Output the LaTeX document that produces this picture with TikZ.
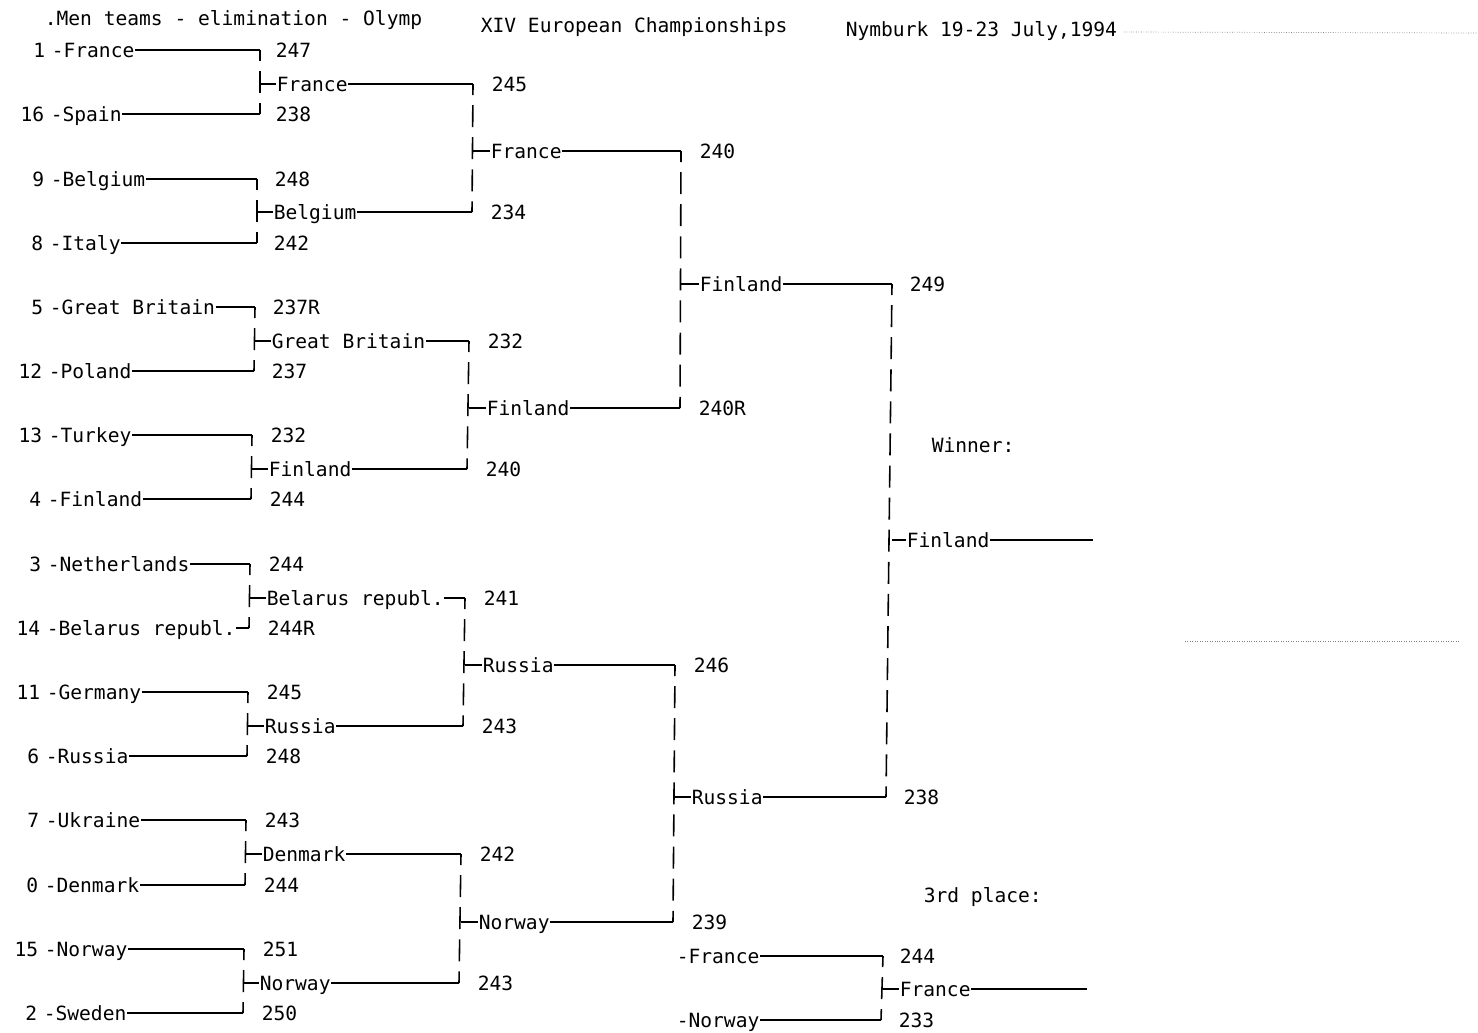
\documentclass[tikz,border=0pt]{standalone}
\usepackage{fontspec}
\newfontfamily\dotfont{DejaVu Sans Mono}

\begin{document}
\begin{tikzpicture}[
    x=0.02cm, y=-0.02cm,
    font=\dotfont\fontsize{11.15}{13}\selectfont,
    line width=0.9pt,
    namenode/.style={anchor=west, inner sep=0pt, text height=8.2pt, text depth=0pt},
    seednode/.style={anchor=east, inner sep=0pt, text height=8.2pt, text depth=0pt},
    boxline/.style={dash pattern=on 0.44cm off 0.202cm, dash phase=0.22cm},
    ]
\useasboundingbox (0,0) rectangle (1478,1032);

% Heading
\node[namenode] (head1) at (44,18) {.Men teams - elimination - Olymp};
\node[namenode] (head2) at (480,25) {XIV European Championships};
\node[namenode] (head3) at (845,29) {Nymburk 19-23 July,1994};
\draw[gray, thin, densely dotted] (head3.east) ++(6,3) -- (1478,33);

% First round
\node[seednode] (s1) at (46,50) {1};
\node[namenode] (t1) at (51,50) {-France};
\node[seednode] (s2) at (45,114) {16};
\node[namenode] (t2) at (50,114) {-Spain};
\node[seednode] (s3) at (45,179) {9};
\node[namenode] (t3) at (50,179) {-Belgium};
\node[seednode] (s4) at (44,243) {8};
\node[namenode] (t4) at (49,243) {-Italy};
\node[seednode] (s5) at (44,307) {5};
\node[namenode] (t5) at (49,307) {-Great Britain};
\node[seednode] (s6) at (43,371) {12};
\node[namenode] (t6) at (48,371) {-Poland};
\node[seednode] (s7) at (43,435) {13};
\node[namenode] (t7) at (48,435) {-Turkey};
\node[seednode] (s8) at (42,499) {4};
\node[namenode] (t8) at (47,499) {-Finland};
\node[seednode] (s9) at (42,564) {3};
\node[namenode] (t9) at (47,564) {-Netherlands};
\node[seednode] (s10) at (41,628) {14};
\node[namenode] (t10) at (46,628) {-Belarus republ.};
\node[seednode] (s11) at (41,692) {11};
\node[namenode] (t11) at (46,692) {-Germany};
\node[seednode] (s12) at (40,756) {6};
\node[namenode] (t12) at (45,756) {-Russia};
\node[seednode] (s13) at (40,820) {7};
\node[namenode] (t13) at (45,820) {-Ukraine};
\node[seednode] (s14) at (39,885) {0};
\node[namenode] (t14) at (44,885) {-Denmark};
\node[seednode] (s15) at (39,949) {15};
\node[namenode] (t15) at (44,949) {-Norway};
\node[seednode] (s16) at (38,1013) {2};
\node[namenode] (t16) at (43,1013) {-Sweden};

\coordinate (b1) at (260,50);
\coordinate (b2) at (260,114);
\coordinate (b3) at (257,179);
\coordinate (b4) at (257,243);
\coordinate (b5) at (255,307);
\coordinate (b6) at (254,371);
\coordinate (b7) at (252,435);
\coordinate (b8) at (251,499);
\coordinate (b9) at (250,564);
\coordinate (b10) at (249,628);
\coordinate (b11) at (248,692);
\coordinate (b12) at (247,756);
\coordinate (b13) at (246,820);
\coordinate (b14) at (245,885);
\coordinate (b15) at (244,949);
\coordinate (b16) at (243,1013);

\node[namenode] (a1) at (275,50) {247};
\node[namenode] (a2) at (275,114) {238};
\node[namenode] (a3) at (274,179) {248};
\node[namenode] (a4) at (273,243) {242};
\node[namenode] (a5) at (272,307) {237R};
\node[namenode] (a6) at (271,371) {237};
\node[namenode] (a7) at (270,435) {232};
\node[namenode] (a8) at (269,499) {244};
\node[namenode] (a9) at (268,564) {244};
\node[namenode] (a10) at (267,628) {244R};
\node[namenode] (a11) at (266,692) {245};
\node[namenode] (a12) at (265,756) {248};
\node[namenode] (a13) at (264,820) {243};
\node[namenode] (a14) at (263,885) {244};
\node[namenode] (a15) at (262,949) {251};
\node[namenode] (a16) at (261,1013) {250};

% Second round
\node[namenode] (w1) at (276,84) {France};
\node[namenode] (w2) at (273,212) {Belgium};
\node[namenode] (w3) at (271,341) {Great Britain};
\node[namenode] (w4) at (268,469) {Finland};
\node[namenode] (w5) at (266,598) {Belarus republ.};
\node[namenode] (w6) at (264,726) {Russia};
\node[namenode] (w7) at (262,854) {Denmark};
\node[namenode] (w8) at (259,983) {Norway};

\coordinate (c1) at (473,84);
\coordinate (c2) at (472,212);
\coordinate (c3) at (469,341);
\coordinate (c4) at (467,469);
\coordinate (c5) at (465,598);
\coordinate (c6) at (463,726);
\coordinate (c7) at (461,854);
\coordinate (c8) at (459,983);

\node[namenode] (r1) at (491,84) {245};
\node[namenode] (r2) at (490,212) {234};
\node[namenode] (r3) at (487,341) {232};
\node[namenode] (r4) at (485,469) {240};
\node[namenode] (r5) at (483,598) {241};
\node[namenode] (r6) at (481,726) {243};
\node[namenode] (r7) at (479,854) {242};
\node[namenode] (r8) at (477,983) {243};

% Third round
\node[namenode] (v1) at (490,151) {France};
\node[namenode] (v2) at (486,408) {Finland};
\node[namenode] (v3) at (482,665) {Russia};
\node[namenode] (v4) at (478,922) {Norway};

\coordinate (d1) at (681,151);
\coordinate (d2) at (680,408);
\coordinate (d3) at (675,665);
\coordinate (d4) at (673,922);

\node[namenode] (q1) at (699,151) {240};
\node[namenode] (q2) at (698,408) {240R};
\node[namenode] (q3) at (693,665) {246};
\node[namenode] (q4) at (691,922) {239};

% Final
\node[namenode] (u1) at (699,284) {Finland};
\node[namenode] (u2) at (691,797) {Russia};

\coordinate (e1) at (892,284);
\coordinate (e2) at (886,797);

\node[namenode] (p1) at (909,284) {249};
\node[namenode] (p2) at (903,797) {238};

\node[namenode] (wintitle) at (931,445) {Winner:};
\node[namenode] (champ) at (906,540) {Finland};
\coordinate (champend) at (1093,540);

% Third place
\node[namenode] (bronzetitle) at (923,895) {3rd place:};
\node[namenode] (m1) at (676,956) {-France};
\node[namenode] (m2) at (676,1020) {-Norway};

\coordinate (g1) at (883,956);
\coordinate (g2) at (881,1020);

\node[namenode] (k1) at (899,956) {244};
\node[namenode] (k2) at (898,1020) {233};

\node[namenode] (bronze) at (899,989) {France};
\coordinate (bronzeend) at (1087,989);

\draw[gray, thin, densely dotted] (1185,641) -- (1460,641);

% Lines of the bracket
\foreach \i in {1,...,16} {
    \draw (t\i.east) -- (b\i);
}
\foreach \i/\j/\win in {1/2/1, 3/4/2, 5/6/3, 7/8/4, 9/10/5, 11/12/6, 13/14/7, 15/16/8} {
    \draw[boxline] (b\i) -- (b\j);
    \draw (b\i |- w\win.west) -- (w\win.west);
}

\foreach \i in {1,...,8} {
    \draw (w\i.east) -- (c\i);
}
\foreach \i/\j/\win in {1/2/1, 3/4/2, 5/6/3, 7/8/4} {
    \draw[boxline] (c\i) -- (c\j);
    \draw (c\i |- v\win.west) -- (v\win.west);
}

\foreach \i in {1,...,4} {
    \draw (v\i.east) -- (d\i);
}
\foreach \i/\j/\win in {1/2/1, 3/4/2} {
    \draw[boxline] (d\i) -- (d\j);
    \draw (d\i |- u\win.west) -- (u\win.west);
}

\foreach \i in {1,2} {
    \draw (u\i.east) -- (e\i);
}
\draw[boxline] (e1) -- (e2);
\draw (e1 |- champ.west) -- (champ.west);
\draw (champ.east) -- (champend);

\draw (m1.east) -- (g1);
\draw (m2.east) -- (g2);
\draw[boxline] (g1) -- (g2);
\draw (g1 |- bronze.west) -- (bronze.west);
\draw (bronze.east) -- (bronzeend);

\end{tikzpicture}
\end{document}
